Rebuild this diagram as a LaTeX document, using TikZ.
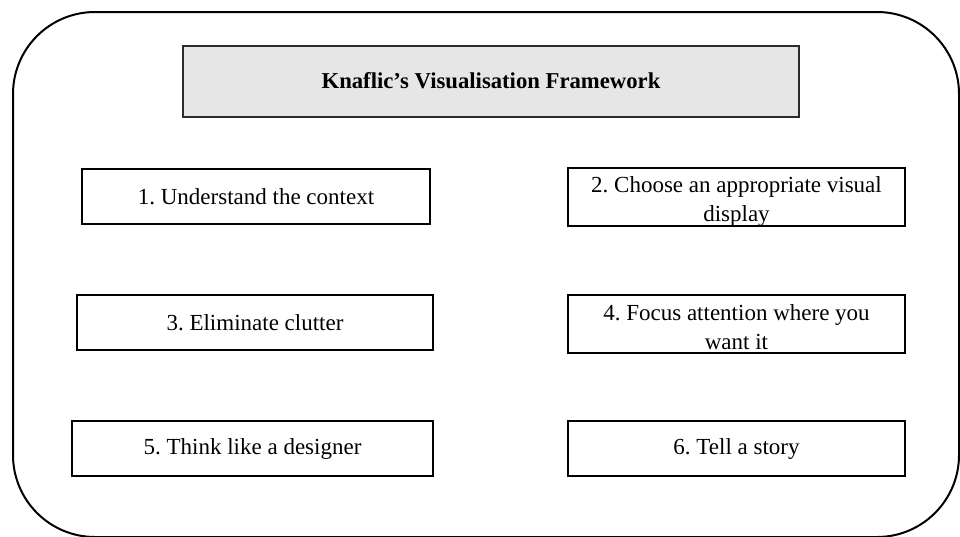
\documentclass[tikz,border=0pt]{standalone}
\usepackage{fontspec}
\setmainfont{Liberation Serif}
\frenchspacing
\definecolor{titlegray}{HTML}{E7E6E6}
\definecolor{titleline}{HTML}{2B2B2B}
\begin{document}
\begin{tikzpicture}[x=1pt,y=-1pt,
  frame/.style={draw=black, line width=2pt, rounded corners=82pt},
  titlebox/.style={draw=titleline, fill=titlegray, line width=2pt, inner sep=0pt,
    font=\fontsize{22.7}{27}\selectfont\bfseries},
  stepbox/.style={draw=black, line width=2pt, inner sep=0pt, align=center,
    font=\fontsize{23}{29}\selectfont}
]
\useasboundingbox (0,0) rectangle (960,536);
% outer rounded frame, running off the right and bottom edges
\draw[frame] (13,12) rectangle (959,537);

% heading
\node[titlebox, minimum width=616pt, minimum height=71pt] (title) at (491,81)
  {Knaflic’s Visualisation Framework};

% the six steps
\node[stepbox, minimum width=348pt, minimum height=55pt] (s1) at (256,196.5)
  {1. Understand the context};
\node[stepbox, minimum width=337pt, minimum height=56pt] (s2) at (736.5,197)
  {\rule{0pt}{24pt}2. Choose an appropriate visual\\display};
\node[stepbox, minimum width=356pt, minimum height=55pt] (s3) at (255,322.5)
  {3. Eliminate clutter};
\node[stepbox, minimum width=337pt, minimum height=58pt] (s4) at (736.5,324)
  {\rule{0pt}{22pt}4. Focus attention where you\\want it};
\node[stepbox, minimum width=361pt, minimum height=55pt] (s5) at (252.5,448.5)
  {5. Think like a designer};
\node[stepbox, minimum width=337pt, minimum height=55pt] (s6) at (736.5,448.5)
  {6. Tell a story};
\end{tikzpicture}
\end{document}
